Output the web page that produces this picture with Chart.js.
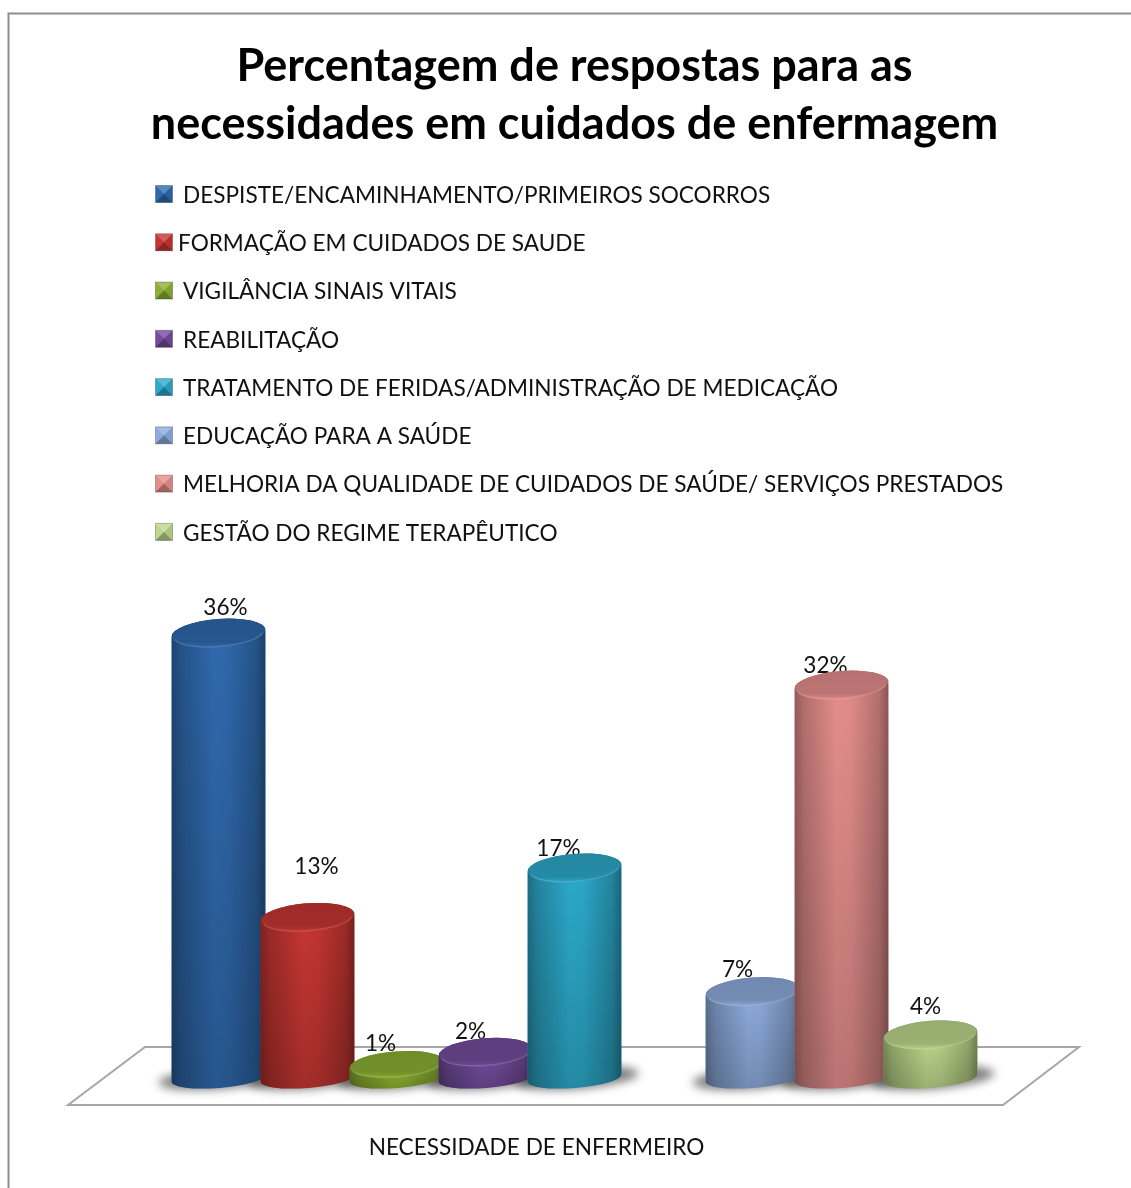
<!DOCTYPE html>
<html><head><meta charset="utf-8">
<style>html,body{margin:0;padding:0;background:#fff}canvas{display:block}</style>
<script src="https://cdn.jsdelivr.net/npm/chart.js@4"></script>
</head><body><canvas id="c" width="1131" height="1188"></canvas>
<script>
const titleLines = ["Percentagem de respostas para as", "necessidades em cuidados de enfermagem"];
const categories = ["NECESSIDADE DE ENFERMEIRO"];
const seriesNames = ["DESPISTE/ENCAMINHAMENTO/PRIMEIROS SOCORROS","FORMAÇÃO EM CUIDADOS DE SAUDE","VIGILÂNCIA SINAIS VITAIS","REABILITAÇÃO","TRATAMENTO DE FERIDAS/ADMINISTRAÇÃO DE MEDICAÇÃO","","EDUCAÇÃO PARA A SAÚDE","MELHORIA DA QUALIDADE DE CUIDADOS DE SAÚDE/ SERVIÇOS PRESTADOS","GESTÃO DO REGIME TERAPÊUTICO"];
const seriesValues = [36, 13, 1.1, 2.1, 17, null, 7, 31.8, 3.5];
const seriesColors = ["#2f69ad","#c63632","#8bb032","#734c9c","#2ca9ca","#ffffff","#8dabdc","#e48e8c","#bdd78b"];

// layout of hand-placed labels (Excel-style manual offsets)
const labelDx = [7, 9, -16, -15, -16, 0, -15, -16, -5];
const labelDy = [-25, -51, -21, -20, -19, 0, -22, -19, -28];
const legendIndent = [0, -5, 0, 0, 0, 0, 0, 0];
const FONT = "Lato, sans-serif";
const TILT = -0.078, RY_TOP = 14, RY_BASE = 10;

function cylPath(ctx, cx, top, base, rx, ryT) {
  ctx.beginPath();
  ctx.ellipse(cx, top, rx, ryT, TILT, Math.PI, 2 * Math.PI);
  ctx.ellipse(cx, base, rx, RY_BASE, TILT, 0, Math.PI);
  ctx.closePath();
}

const cylinderPlugin = {
  id: 'cylinder',
  beforeDraw(chart) {
    // let the title span the page while staying centred over the plot
    const t = chart.titleBlock, c = (chart.chartArea.left + chart.chartArea.right) / 2;
    t.left = c - 500; t.right = c + 500;
  },
  beforeDatasetsDraw(chart) {
    const ctx = chart.ctx, a = chart.chartArea, y0 = chart.scales.y.getPixelForValue(0);
    // floor
    ctx.save();
    ctx.strokeStyle = '#a6a6a6'; ctx.lineWidth = 2;
    ctx.beginPath();
    ctx.moveTo(a.left - 106, y0 + 27);
    ctx.lineTo(a.left - 29, y0 - 31);
    ctx.lineTo(a.right + 104, y0 - 31);
    ctx.lineTo(a.right + 28, y0 + 27);
    ctx.closePath(); ctx.stroke();
    ctx.restore();
    const metas = chart.data.datasets.map((d, i) => chart.getDatasetMeta(i));
    // shadows
    metas.forEach((m, i) => {
      if (seriesValues[i] === null) return;
      const b = m.data[0];
      ctx.save();
      ctx.filter = 'blur(5px)';
      ctx.fillStyle = 'rgba(40,40,40,0.6)';
      ctx.beginPath();
      ctx.ellipse(b.x + 2, b.base, b.width / 2 + 15, 11, TILT, 0, 2 * Math.PI);
      ctx.fill();
      ctx.restore();
    });
    // labels sit behind the cylinders
    ctx.save();
    ctx.font = "22.6px " + FONT; ctx.fillStyle = '#111'; ctx.textAlign = 'center'; ctx.textBaseline = 'middle';
    metas.forEach((m, i) => {
      if (seriesValues[i] === null) return;
      const b = m.data[0];
      ctx.fillText(Math.round(seriesValues[i]) + '%', b.x + labelDx[i], b.y + labelDy[i]);
    });
    ctx.restore();
    // cylinders, left to right so later ones overlap earlier ones
    metas.forEach((m, i) => {
      if (seriesValues[i] === null) return;
      const b = m.data[0], rx = b.width / 2, cx = b.x, top = b.y, base = b.base;
      const ryT = Math.min(RY_TOP, 12 + (base - top) / 14);
      ctx.save();
      cylPath(ctx, cx, top, base, rx, ryT);
      ctx.clip();
      ctx.fillStyle = seriesColors[i];
      ctx.fillRect(cx - rx - 2, top - 20, 2 * rx + 4, base - top + 40);
      m.controller.draw();
      const h = ctx.createLinearGradient(cx - rx, 0, cx + rx, 0);
      h.addColorStop(0, 'rgba(0,0,0,0.36)');
      h.addColorStop(0.1, 'rgba(0,0,0,0.22)');
      h.addColorStop(0.45, 'rgba(0,0,0,0)');
      h.addColorStop(0.6, 'rgba(0,0,0,0.02)');
      h.addColorStop(0.9, 'rgba(0,0,0,0.22)');
      h.addColorStop(1, 'rgba(0,0,0,0.4)');
      ctx.fillStyle = h;
      ctx.fillRect(cx - rx - 2, top - 20, 2 * rx + 4, base - top + 40);
      const v = ctx.createLinearGradient(0, top, 0, base + 10);
      v.addColorStop(0, 'rgba(0,0,0,0)');
      v.addColorStop(1, 'rgba(0,0,0,0.18)');
      ctx.fillStyle = v;
      ctx.fillRect(cx - rx - 2, top - 20, 2 * rx + 4, base - top + 40);
      ctx.restore();
      // top cap
      ctx.save();
      ctx.beginPath();
      ctx.ellipse(cx, top, rx - 0.5, ryT, TILT, 0, 2 * Math.PI);
      ctx.fillStyle = seriesColors[i]; ctx.fill();
      const t = ctx.createLinearGradient(0, top - ryT, 0, top + ryT);
      t.addColorStop(0, 'rgba(0,0,0,0.2)');
      t.addColorStop(0.8, 'rgba(0,0,0,0.18)');
      t.addColorStop(1, 'rgba(0,0,0,0.05)');
      ctx.fillStyle = t; ctx.fill();
      ctx.beginPath();
      ctx.ellipse(cx, top, rx - 1.5, ryT - 0.5, TILT, 0.25, Math.PI - 0.25);
      ctx.strokeStyle = 'rgba(255,255,255,0.14)'; ctx.lineWidth = 1.5; ctx.stroke();
      ctx.restore();
    });
    return false;
  },
  afterDraw(chart) {
    const ctx = chart.ctx;
    // outer frame
    ctx.save();
    ctx.strokeStyle = '#8e8e8e'; ctx.lineWidth = 2;
    ctx.beginPath(); ctx.moveTo(8.5, 1188); ctx.lineTo(8.5, 13.5); ctx.lineTo(1131, 13.5); ctx.stroke();
    // legend
    let row = 0;
    seriesNames.forEach((name, i) => {
      if (!name) return;
      const yc = 194.5 + row * 48.27, x = 155.5, s = 17, c = [x + s / 2, yc - 0.5];
      const y = yc - s / 2 - 0.5;
      ctx.fillStyle = seriesColors[i]; ctx.fillRect(x, y, s, s);
      const tri = (p, col) => { ctx.fillStyle = col; ctx.beginPath(); ctx.moveTo(p[0], p[1]); ctx.lineTo(p[2], p[3]); ctx.lineTo(c[0], c[1]); ctx.closePath(); ctx.fill(); };
      tri([x, y, x + s, y], 'rgba(255,255,255,0.2)');
      tri([x + s, y, x + s, y + s], 'rgba(0,0,0,0.08)');
      tri([x, y + s, x + s, y + s], 'rgba(0,0,0,0.3)');
      ctx.strokeStyle = 'rgba(0,0,0,0.25)'; ctx.lineWidth = 1; ctx.strokeRect(x, y, s, s);
      ctx.fillStyle = '#111'; ctx.font = "22.6px " + FONT; ctx.textAlign = 'left'; ctx.textBaseline = 'middle';
      ctx.fillText(name, 183 + legendIndent[row], yc + 1);
      row++;
    });
    ctx.restore();
  }
};

new Chart(document.getElementById('c'), {
  type: 'bar',
  data: {
    labels: categories,
    datasets: seriesNames.map((n, i) => ({ label: n, data: [seriesValues[i]], backgroundColor: seriesColors[i], borderWidth: 0 }))
  },
  plugins: [cylinderPlugin],
  options: {
    responsive: false, animation: false,
    layout: { padding: { left: 174, right: 156, top: 0, bottom: 0 } },
    datasets: { bar: { categoryPercentage: 1, barPercentage: 1.056 } },
    plugins: {
      legend: { display: false },
      tooltip: { enabled: false },
      title: { display: true, text: titleLines, fullSize: false, color: '#000',
        font: { family: FONT, size: 45, weight: 'bold', lineHeight: 58 / 45 },
        padding: { top: 37, bottom: 430.6 } }
    },
    scales: {
      x: { grid: { display: false, drawTicks: false }, border: { display: false },
        afterFit(s) { s.height = 110; },
        ticks: { color: '#111', padding: 56, labelOffset: -38, maxRotation: 0, autoSkip: false, font: { family: FONT, size: 22.6 } } },
      y: { display: false, min: 0, max: 40 }
    }
  }
});
</script></body></html>
